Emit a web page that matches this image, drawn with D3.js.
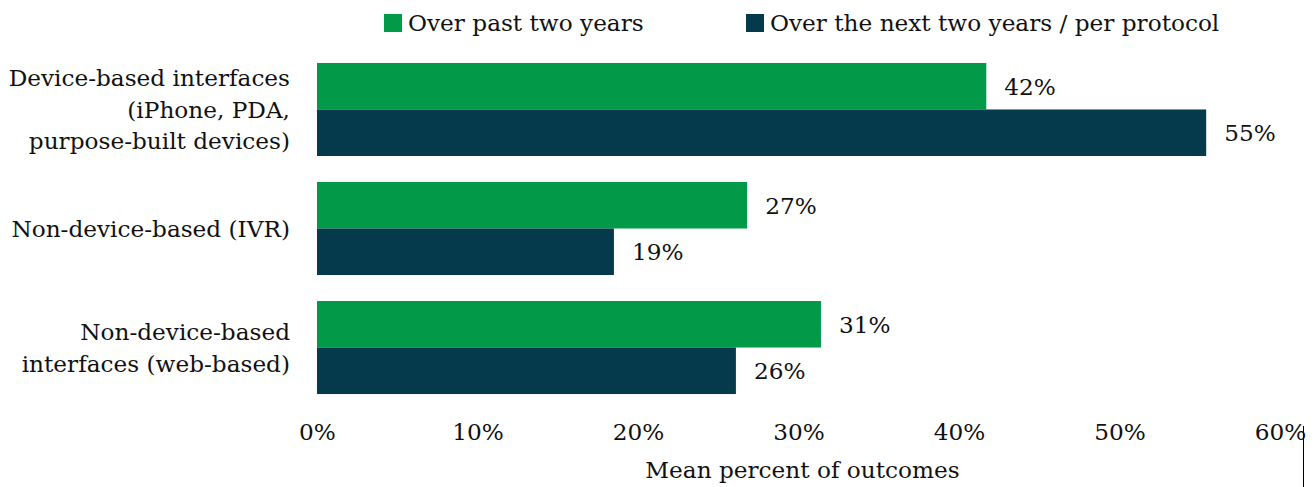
<!DOCTYPE html>
<html>
<head>
<meta charset="utf-8">
<script src="https://cdn.jsdelivr.net/npm/d3@7"></script>
<style>
  body { margin: 0; background: #fff; }
  text { font-family: "DejaVu Serif", serif; fill: #111; }
</style>
</head>
<body>
<div id="chart-area"></div>
<script>
// data
var categories = [
    ["Device-based interfaces", "(iPhone, PDA,", "purpose-built devices)"],
    ["Non-device-based (IVR)"],
    ["Non-device-based", "interfaces (web-based)"]
];
var seriesNames = ["Over past two years", "Over the next two years / per protocol"];
var pastValues = [41.7, 26.8, 31.4];
var nextValues = [55.4, 18.5, 26.1];
var tickValues = [0, 10, 20, 30, 40, 50, 60];
var colors = ["#029a48", "#043a4c"];

var width = 1316, height = 487;
var fontSize = "23.2px";

var svg = d3.select("#chart-area")
    .append("svg")
    .attr("width", width)
    .attr("height", height);

var catIds = categories.map(function(d, i){ return i; });

var x = d3.scaleLinear()
    .domain([0, 60])
    .range([317, 1280]);

var y = d3.scaleBand()
    .domain(catIds)
    .range([50, 407])
    .paddingInner(0.2185)
    .paddingOuter(0.109);

var ySub = d3.scaleBand()
    .domain([0, 1])
    .range([0, y.bandwidth()]);

var rows = [];
catIds.forEach(function(i){
    rows.push({ cat: i, s: 0, value: pastValues[i] });
    rows.push({ cat: i, s: 1, value: nextValues[i] });
});

// bars
svg.selectAll("rect.bar")
    .data(rows)
    .enter()
    .append("rect")
        .attr("class", "bar")
        .attr("x", x(0))
        .attr("y", function(d){ return y(d.cat) + ySub(d.s); })
        .attr("width", function(d){ return x(d.value) - x(0); })
        .attr("height", ySub.bandwidth())
        .attr("fill", function(d){ return colors[d.s]; });

// value labels
svg.selectAll("text.value")
    .data(rows)
    .enter()
    .append("text")
        .attr("class", "value")
        .attr("x", function(d){ return x(d.value) + 18; })
        .attr("y", function(d){ return y(d.cat) + ySub(d.s) + ySub.bandwidth() / 2; })
        .attr("dy", "0.36em")
        .attr("font-size", fontSize)
        .text(function(d){ return Math.round(d.value) + "%"; });

// category labels
var lineH = 31.5;
var catLabels = svg.selectAll("text.cat")
    .data(categories)
    .enter()
    .append("text")
        .attr("class", "cat")
        .attr("text-anchor", "end")
        .attr("font-size", fontSize)
        .attr("y", function(d, i){
            return y(i) + y.bandwidth() / 2 - (d.length - 1) * lineH / 2;
        });

catLabels.selectAll("tspan")
    .data(function(d){ return d; })
    .enter()
    .append("tspan")
        .attr("x", 290)
        .attr("dy", function(d, j){ return j === 0 ? "0.36em" : lineH; })
        .text(function(d){ return d; });

// x axis (labels only)
var xAxisCall = d3.axisBottom(x)
    .tickValues(tickValues)
    .tickSize(0)
    .tickPadding(0)
    .tickFormat(function(d){ return d + "%"; });

var xAxis = svg.append("g")
    .attr("class", "x-axis")
    .attr("transform", "translate(0, 432)")
    .call(xAxisCall);

xAxis.select(".domain").remove();
xAxis.selectAll("text")
    .attr("y", 0)
    .attr("dy", "0.36em")
    .attr("font-size", fontSize)
    .attr("font-family", function(d){ return d === 60 ? "DejaVu Sans, sans-serif" : "DejaVu Serif, serif"; })
    .attr("fill", "#111");

svg.append("line")
    .attr("x1", 1303.5).attr("x2", 1303.5)
    .attr("y1", 426).attr("y2", height)
    .attr("stroke", "#000")
    .attr("stroke-width", 1);

svg.append("text")
    .attr("class", "x axis-label")
    .attr("x", (x(0) + x(60)) / 2 + 4)
    .attr("y", 470)
    .attr("dy", "0.36em")
    .attr("font-size", fontSize)
    .attr("text-anchor", "middle")
    .text("Mean percent of outcomes");

// legend
var legendX = [384, 746];
var legend = svg.selectAll("g.legend")
    .data(seriesNames)
    .enter()
    .append("g")
        .attr("class", "legend")
        .attr("transform", function(d, i){ return "translate(" + legendX[i] + ", 14)"; });

legend.append("rect")
    .attr("width", 18)
    .attr("height", 18)
    .attr("fill", function(d, i){ return colors[i]; });

legend.append("text")
    .attr("x", 24)
    .attr("y", 9)
    .attr("dy", "0.36em")
    .attr("font-size", fontSize)
    .text(function(d){ return d; });
</script>
</body>
</html>
